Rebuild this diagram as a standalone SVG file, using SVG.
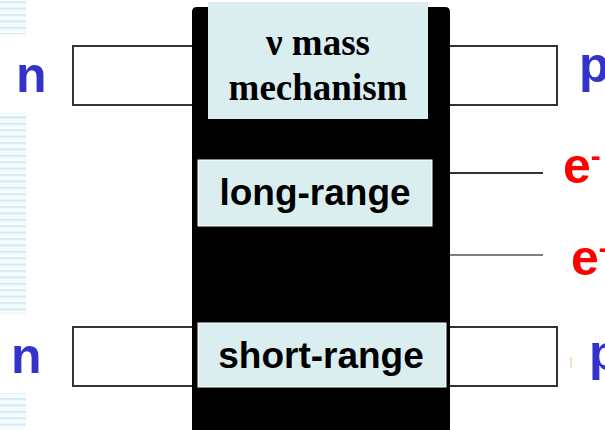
<svg xmlns="http://www.w3.org/2000/svg" width="605" height="430" viewBox="0 0 605 430">
  <defs>
    <pattern id="stripes" x="0" y="1" width="26" height="6.4" patternUnits="userSpaceOnUse">
      <rect x="0" y="0" width="26" height="2.4" fill="#d3ebf3"/>
      <rect x="0" y="3.6" width="26" height="1.2" fill="#eef7fa"/>
    </pattern>
  </defs>
  <style>
    .leg { fill: #ffffff; stroke: #333333; stroke-width: 2; }
    .panel { fill: #daeef0; }
    .sans { font-family: "Liberation Sans", Arial, sans-serif; font-weight: bold; }
    .serif { font-family: "Liberation Serif", "Times New Roman", serif; font-weight: bold; }
    .nucleon { fill: #3333cc; font-size: 50px; }
    .electron { fill: #ff0000; font-size: 50px; }
    .lbl { fill: #000000; font-size: 37px; text-anchor: middle; }
  </style>

  <rect width="605" height="430" fill="#ffffff"/>

  <!-- decorative striped margin -->
  <rect x="0" y="0" width="26" height="34" fill="url(#stripes)"/>
  <rect x="0" y="113" width="26" height="202" fill="url(#stripes)"/>
  <rect x="0" y="393" width="26" height="37" fill="url(#stripes)"/>

  <!-- connectors: nucleon legs and electron lines -->
  <g id="connectors">
    <rect class="leg" x="73" y="46" width="122" height="59"/>
    <rect class="leg" x="73" y="327" width="122" height="59"/>
    <rect class="leg" x="447" y="46" width="110" height="59"/>
    <rect class="leg" x="447" y="327" width="110" height="59"/>
    <line x1="449" y1="173" x2="543" y2="173" stroke="#333333" stroke-width="2"/>
    <line x1="449" y1="255" x2="543" y2="255" stroke="#555555" stroke-width="1.3"/>
  </g>

  <!-- central black vertex -->
  <g id="vertex">
    <path d="M192,430 V12 Q192,7 197,7 H445 Q450,7 450,12 V430 Z" fill="#000000"/>
  </g>

  <g id="mass-mechanism">
    <rect class="panel" x="208" y="2" width="220" height="117"/>
    <text class="serif lbl" x="318" y="55">ν mass</text>
    <text class="serif lbl" x="318" y="100">mechanism</text>
  </g>

  <g id="long-range">
    <rect class="panel" x="198" y="160" width="234" height="66" stroke="#ffffff" stroke-width="1"/>
    <text class="sans lbl" x="315" y="205">long-range</text>
  </g>

  <g id="short-range">
    <rect class="panel" x="198" y="323" width="248" height="64" stroke="#ffffff" stroke-width="1"/>
    <text class="sans lbl" x="321" y="368">short-range</text>
  </g>

  <g id="n-top"><text class="sans nucleon" x="16" y="92">n</text></g>
  <g id="n-bottom"><text class="sans nucleon" x="11" y="373">n</text></g>
  <g id="p-top"><text class="sans nucleon" x="579" y="82">p</text></g>
  <g id="p-bottom"><text class="sans nucleon" x="589" y="370">p</text></g>

  <g id="e-top">
    <text class="sans electron" x="563" y="183">e<tspan font-size="30" dy="-17">-</tspan></text>
  </g>
  <g id="e-bottom">
    <text class="sans electron" x="571" y="275">e<tspan font-size="30" dy="-17">-</tspan></text>
  </g>

  <line x1="571" y1="357" x2="571" y2="368" stroke="#e8c08a" stroke-width="1"/>
</svg>
